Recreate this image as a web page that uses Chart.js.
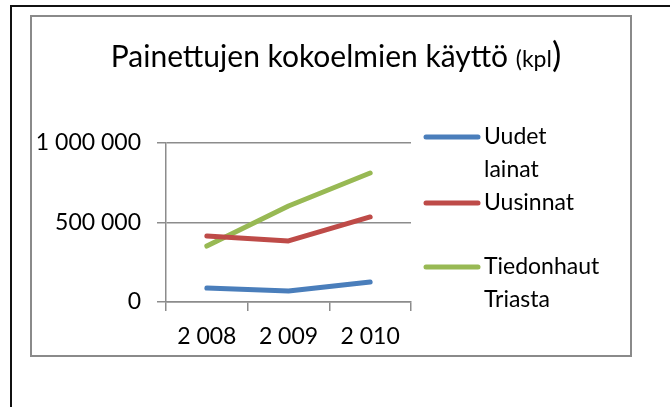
<!DOCTYPE html>
<html>
<head>
<meta charset="utf-8">
<script src="https://cdn.jsdelivr.net/npm/chart.js@4/dist/chart.umd.min.js"></script>
<style>
  html, body { margin: 0; padding: 0; background: #fff; }
  #wrap { width: 670px; height: 407px; position: relative; }
</style>
</head>
<body>
<div id="wrap"><canvas id="chart" width="670" height="407"></canvas></div>
<script>
// Data
const years = ['2 008', '2 009', '2 010'];
const uudetLainat = [88000, 69000, 126000];
const uusinnat = [415000, 384000, 535000];
const tiedonhaut = [352000, 604000, 811000];
const yTicks = [0, 500000, 1000000];

const FONT = 'Lato, "Open Sans", sans-serif';
const GRID = '#8c8c8c';

// Format "1 000 000"
const fmt = v => String(v).replace(/\B(?=(\d{3})+(?!\d))/g, ' ');

// Frame, title and legend drawn on the canvas
const decorations = {
    id: 'decorations',
    beforeDraw(chart) {
        const c = chart.ctx;
        c.save();
        c.fillStyle = '#fff';
        c.fillRect(0, 0, chart.width, chart.height);
        // outer black frame
        c.strokeStyle = '#111';
        c.lineWidth = 2;
        c.beginPath();
        c.moveTo(11, chart.height);
        c.lineTo(11, 6);
        c.lineTo(chart.width, 6);
        c.stroke();
        // inner gray box
        c.strokeStyle = '#8a8a8a';
        c.lineWidth = 2;
        c.strokeRect(31, 16, 600, 340);
        c.restore();
    },
    afterDraw(chart) {
        const c = chart.ctx;
        c.save();
        c.fillStyle = '#000';
        c.textBaseline = 'alphabetic';
        // title with mixed sizes
        const parts = [
            ['Painettujen kokoelmien käyttö ', 30],
            ['(kpl', 23],
            [')', 35]
        ];
        let total = 0;
        parts.forEach(p => { c.font = p[1] + 'px ' + FONT; total += c.measureText(p[0]).width; });
        let x = 336 - total / 2;
        parts.forEach(p => {
            c.font = p[1] + 'px ' + FONT;
            c.fillText(p[0], x, 67);
            x += c.measureText(p[0]).width;
        });
        // legend
        const rows = [137, 203, 267];
        c.font = '23px ' + FONT;
        c.textBaseline = 'middle';
        chart.data.datasets.forEach((ds, i) => {
            const y = rows[i];
            c.strokeStyle = ds.borderColor;
            c.lineWidth = 5;
            c.lineCap = 'round';
            c.beginPath();
            c.moveTo(426, y);
            c.lineTo(478, y);
            c.stroke();
            ds.label.split('\n').forEach((line, j) => {
                c.fillText(line, 484, y + j * 33);
            });
        });
        c.restore();
    }
};

new Chart(document.getElementById('chart'), {
    type: 'line',
    data: {
        labels: years,
        datasets: [
            { label: 'Uudet\nlainat', data: uudetLainat, borderColor: '#4a7ebb' },
            { label: 'Uusinnat', data: uusinnat, borderColor: '#be4b48' },
            { label: 'Tiedonhaut\nTriasta', data: tiedonhaut, borderColor: '#98b954' }
        ]
    },
    options: {
        responsive: false,
        animation: false,
        layout: { padding: { left: 31, right: 259, top: 143, bottom: 45 } },
        elements: {
            line: { borderWidth: 5, tension: 0, borderCapStyle: 'round', borderJoinStyle: 'round' },
            point: { radius: 0 }
        },
        plugins: {
            legend: { display: false },
            title: { display: false },
            tooltip: { enabled: false }
        },
        scales: {
            x: {
                offset: true,
                afterFit: s => { s.height = 60; },
                grid: { offset: true, drawOnChartArea: false, drawTicks: true, tickLength: 9, color: GRID, lineWidth: 1.5 },
                border: { display: true, color: GRID, width: 1.5 },
                ticks: { color: '#000', font: { family: FONT, size: 23 }, padding: 12, maxRotation: 0 }
            },
            y: {
                min: 0,
                max: 1000000,
                afterFit: s => { s.width = 135; },
                afterBuildTicks: s => { s.ticks = yTicks.map(v => ({ value: v })); },
                grid: { color: GRID, lineWidth: 1.5, tickLength: 9 },
                border: { display: true, color: GRID, width: 1.5 },
                ticks: { color: '#000', font: { family: FONT, size: 23 }, padding: 16, callback: v => fmt(v) }
            }
        }
    },
    plugins: [decorations]
});
</script>
</body>
</html>
